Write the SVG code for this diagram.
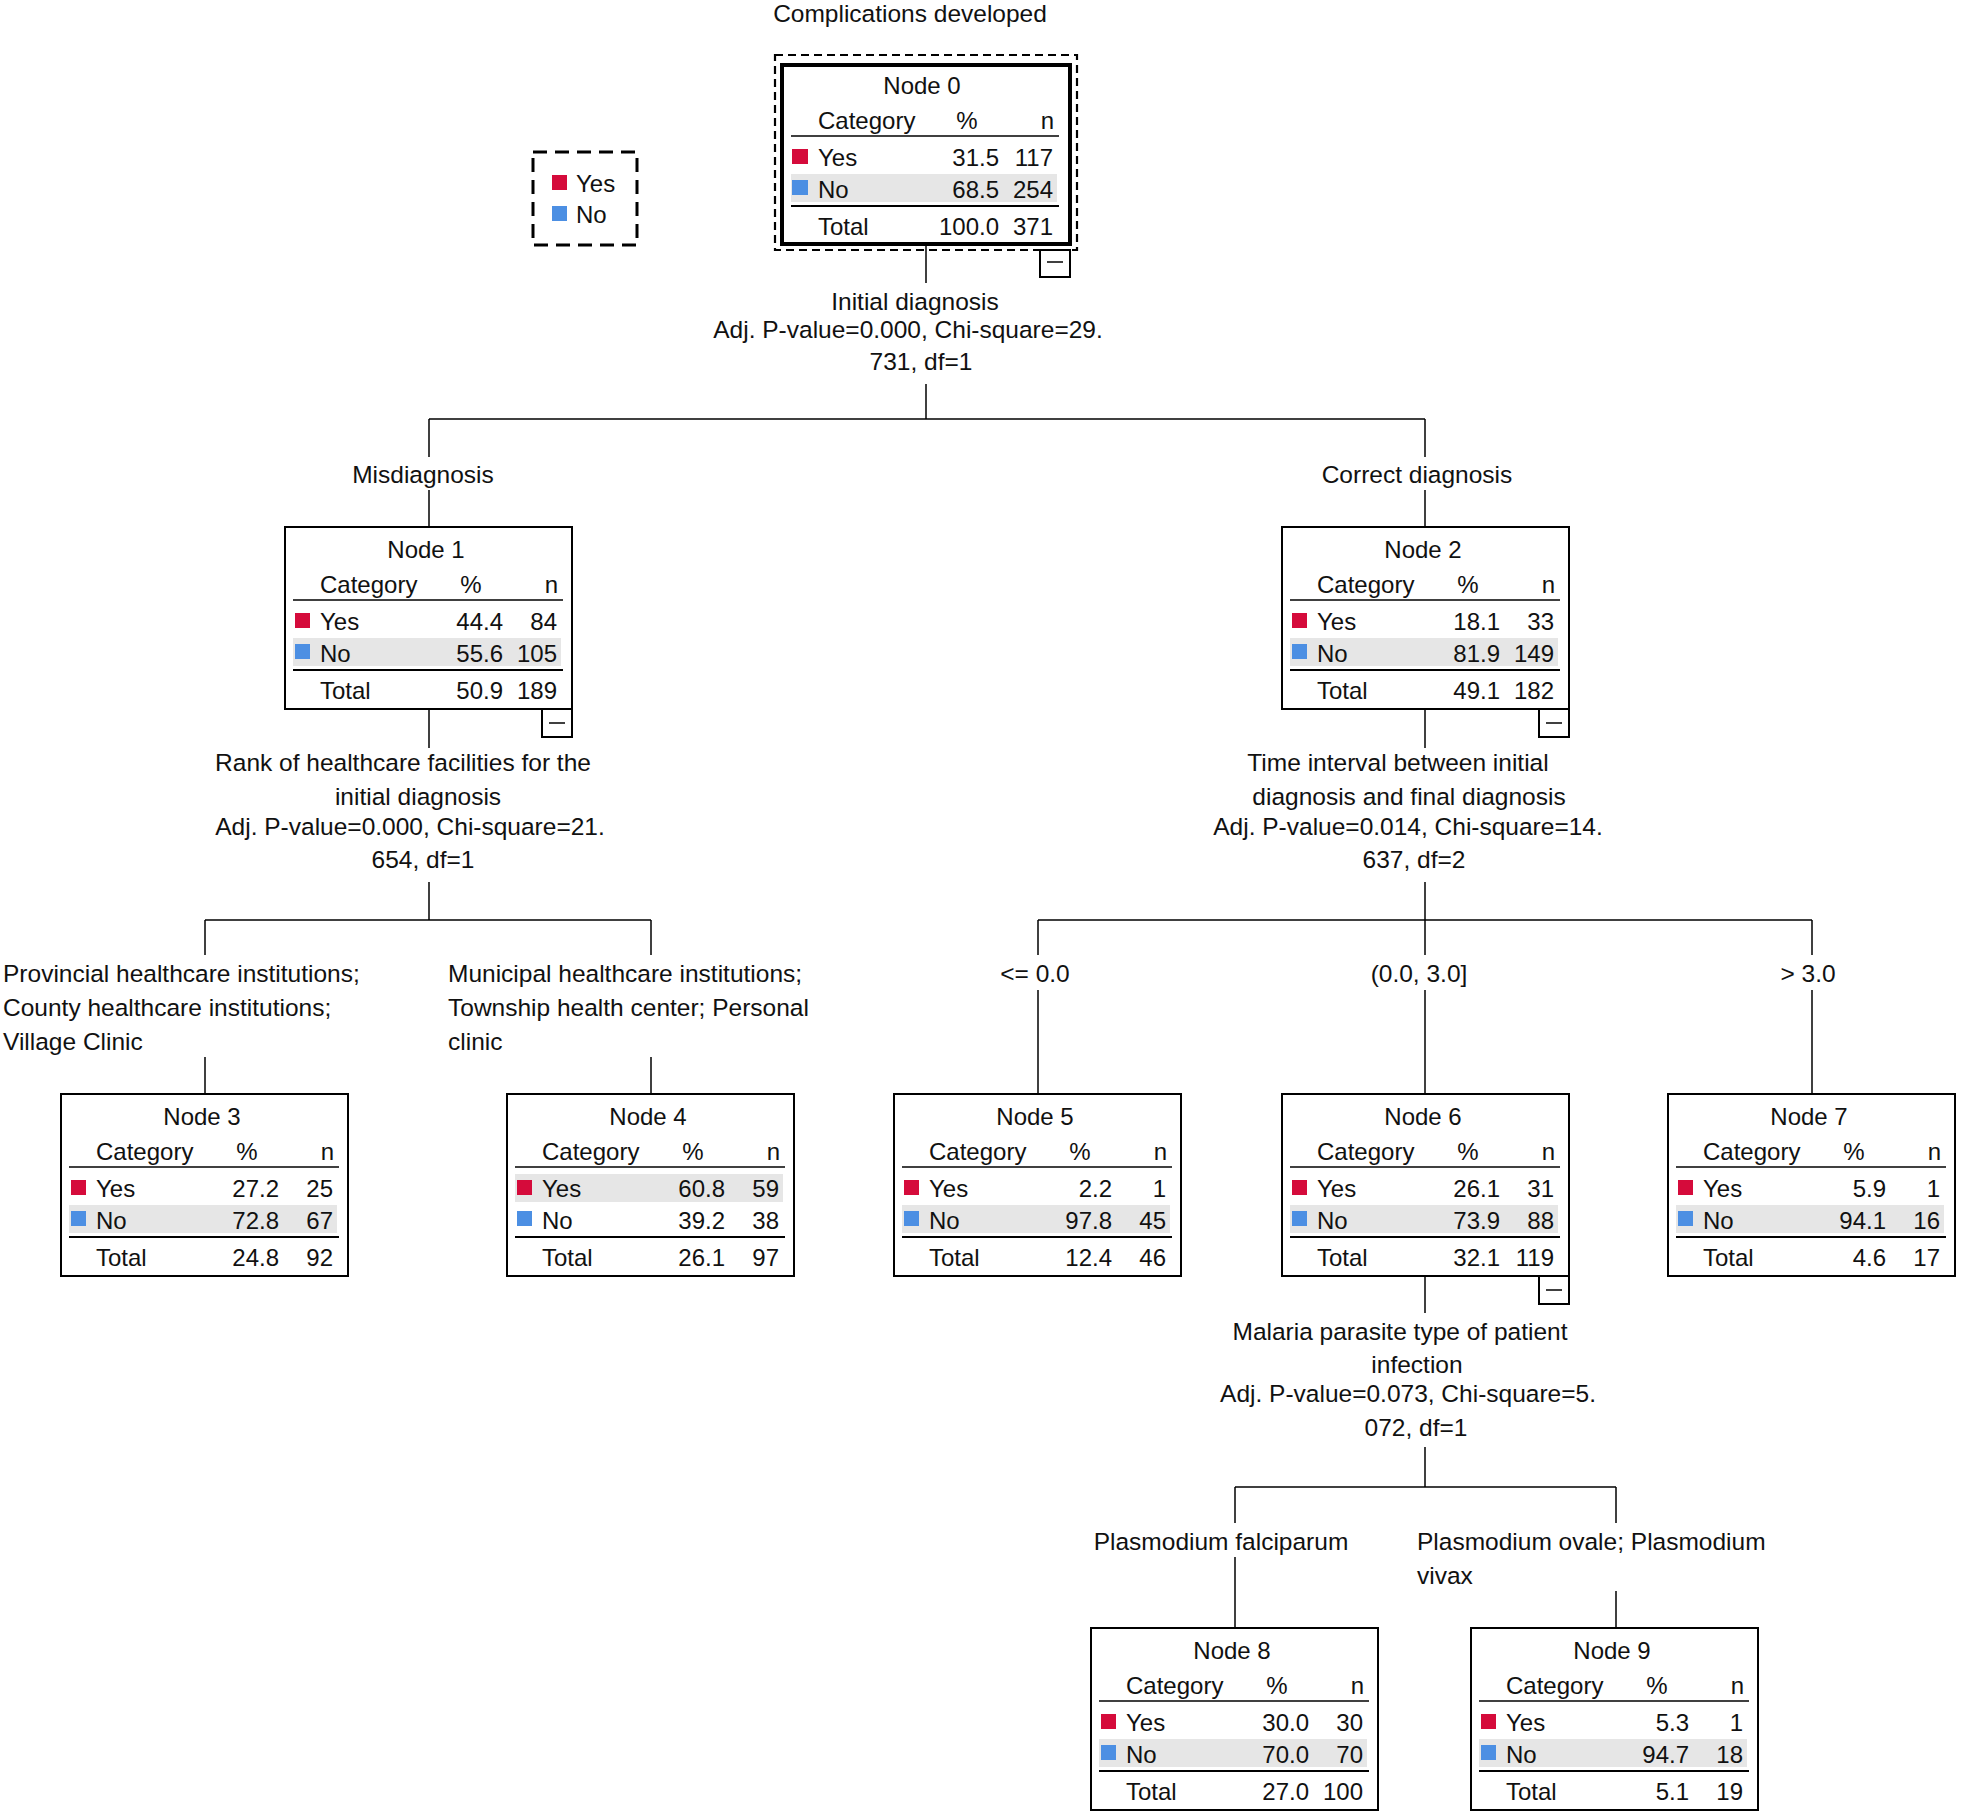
<svg xmlns="http://www.w3.org/2000/svg" width="1961" height="1816" viewBox="0 0 1961 1816">
<style>
.t{font-family:"Liberation Sans",Arial,sans-serif;font-size:24px;fill:#111}
.l{font-family:"Liberation Sans",Arial,sans-serif;font-size:24.5px;fill:#111}
.m{text-anchor:middle}.e{text-anchor:end}
.box{fill:#fff;stroke:#000;stroke-width:2}
.rule{stroke:#000;stroke-width:1.5}
.rule2{stroke:#000;stroke-width:2.2}
.shade{fill:#e6e6e6}
.yes{fill:#d50b3b}.no{fill:#4c8fe3}
.c line{stroke:#000;stroke-width:1.5}
.mn{stroke:#000;stroke-width:1.5}
</style>
<rect width="1961" height="1816" fill="#fff"/>
<text class="l m" x="910" y="22">Complications developed</text>
<g id="legend">
<rect x="533" y="152" width="104" height="93" fill="none" stroke="#000" stroke-width="3" stroke-dasharray="14,8"/>
<rect class="yes" x="552" y="175" width="15" height="15"/>
<text class="t" x="576" y="192">Yes</text>
<rect class="no" x="552" y="206" width="15" height="15"/>
<text class="t" x="576" y="223">No</text>
</g>
<g class="c" id="connectors">
<line x1="926" y1="246" x2="926" y2="283"/>
<line x1="926" y1="384" x2="926" y2="419"/>
<line x1="429" y1="419" x2="1425" y2="419"/>
<line x1="429" y1="419" x2="429" y2="457"/>
<line x1="1425" y1="419" x2="1425" y2="457"/>
<line x1="429" y1="490" x2="429" y2="527"/>
<line x1="1425" y1="490" x2="1425" y2="527"/>
<line x1="429" y1="709" x2="429" y2="748"/>
<line x1="429" y1="882" x2="429" y2="920"/>
<line x1="205" y1="920" x2="651" y2="920"/>
<line x1="205" y1="920" x2="205" y2="955"/>
<line x1="651" y1="920" x2="651" y2="955"/>
<line x1="205" y1="1057" x2="205" y2="1094"/>
<line x1="651" y1="1057" x2="651" y2="1094"/>
<line x1="1425" y1="709" x2="1425" y2="748"/>
<line x1="1425" y1="882" x2="1425" y2="920"/>
<line x1="1038" y1="920" x2="1812" y2="920"/>
<line x1="1038" y1="920" x2="1038" y2="955"/>
<line x1="1425" y1="920" x2="1425" y2="955"/>
<line x1="1812" y1="920" x2="1812" y2="955"/>
<line x1="1038" y1="990" x2="1038" y2="1094"/>
<line x1="1425" y1="990" x2="1425" y2="1094"/>
<line x1="1812" y1="990" x2="1812" y2="1094"/>
<line x1="1425" y1="1276" x2="1425" y2="1313"/>
<line x1="1425" y1="1447" x2="1425" y2="1487"/>
<line x1="1235" y1="1487" x2="1616" y2="1487"/>
<line x1="1235" y1="1487" x2="1235" y2="1523"/>
<line x1="1616" y1="1487" x2="1616" y2="1523"/>
<line x1="1235" y1="1557" x2="1235" y2="1628"/>
<line x1="1616" y1="1591" x2="1616" y2="1628"/>
</g>
<g id="labels">
<text class="l m" x="915" y="310">Initial diagnosis</text>
<text class="l m" x="908" y="338">Adj. P-value=0.000, Chi-square=29.</text>
<text class="l m" x="921" y="370">731, df=1</text>
<text class="l m" x="423" y="483">Misdiagnosis</text>
<text class="l m" x="1417" y="483">Correct diagnosis</text>
<text class="l m" x="403" y="771">Rank of healthcare facilities for the</text>
<text class="l m" x="418" y="805">initial diagnosis</text>
<text class="l m" x="410" y="835">Adj. P-value=0.000, Chi-square=21.</text>
<text class="l m" x="423" y="868">654, df=1</text>
<text class="l m" x="1398" y="771">Time interval between initial</text>
<text class="l m" x="1409" y="805">diagnosis and final diagnosis</text>
<text class="l m" x="1408" y="835">Adj. P-value=0.014, Chi-square=14.</text>
<text class="l m" x="1414" y="868">637, df=2</text>
<text class="l" x="3" y="982">Provincial healthcare institutions;</text>
<text class="l" x="3" y="1016">County healthcare institutions;</text>
<text class="l" x="3" y="1050">Village Clinic</text>
<text class="l" x="448" y="982">Municipal healthcare institutions;</text>
<text class="l" x="448" y="1016">Township health center; Personal</text>
<text class="l" x="448" y="1050">clinic</text>
<text class="l m" x="1035" y="982">&lt;= 0.0</text>
<text class="l m" x="1419" y="982">(0.0, 3.0]</text>
<text class="l m" x="1808" y="982">&gt; 3.0</text>
<text class="l m" x="1400" y="1340">Malaria parasite type of patient</text>
<text class="l m" x="1417" y="1373">infection</text>
<text class="l m" x="1408" y="1402">Adj. P-value=0.073, Chi-square=5.</text>
<text class="l m" x="1416" y="1436">072, df=1</text>
<text class="l m" x="1221" y="1550">Plasmodium falciparum</text>
<text class="l" x="1417" y="1550">Plasmodium ovale; Plasmodium</text>
<text class="l" x="1417" y="1584">vivax</text>
</g>

<g id="node0">
<rect x="775" y="55" width="302" height="195" fill="none" stroke="#000" stroke-width="2.2" stroke-dasharray="8,5"/>
<g transform="translate(781,63)">
<rect x="1" y="2" width="288" height="179" fill="#fff" stroke="#000" stroke-width="4"/>
<text class="t m" x="141" y="31">Node 0</text>
<text class="t" x="37" y="66">Category</text><text class="t m" x="186" y="66">%</text><text class="t e" x="273" y="66">n</text>
<line class="rule" x1="10" y1="73" x2="278" y2="73"/>
<rect class="shade" x="10" y="111" width="266" height="28"/>
<rect class="yes" x="11" y="86" width="16" height="15"/>
<text class="t" x="37" y="103">Yes</text><text class="t e" x="218" y="103">31.5</text><text class="t e" x="272" y="103">117</text>
<rect class="no" x="11" y="117" width="16" height="15"/>
<text class="t" x="37" y="135">No</text><text class="t e" x="218" y="135">68.5</text><text class="t e" x="272" y="135">254</text>
<line class="rule2" x1="10" y1="143" x2="278" y2="143"/>
<text class="t" x="37" y="172">Total</text><text class="t e" x="218" y="172">100.0</text><text class="t e" x="272" y="172">371</text>
</g>
<rect class="box" x="1040" y="250" width="30" height="27"/><line class="mn" x1="1047" y1="262" x2="1063" y2="262"/>
</g>

<g id="node1" transform="translate(285,527)">
<rect class="box" width="287" height="182"/>
<text class="t m" x="141" y="31">Node 1</text>
<text class="t" x="35" y="66">Category</text><text class="t m" x="186" y="66">%</text><text class="t e" x="273" y="66">n</text>
<line class="rule" x1="8" y1="73" x2="278" y2="73"/>
<rect class="shade" x="8" y="111" width="268" height="28"/>
<rect class="yes" x="10" y="86" width="15" height="15"/>
<text class="t" x="35" y="103">Yes</text><text class="t e" x="218" y="103">44.4</text><text class="t e" x="272" y="103">84</text>
<rect class="no" x="10" y="117" width="15" height="15"/>
<text class="t" x="35" y="135">No</text><text class="t e" x="218" y="135">55.6</text><text class="t e" x="272" y="135">105</text>
<line class="rule2" x1="8" y1="143" x2="278" y2="143"/>
<text class="t" x="35" y="172">Total</text><text class="t e" x="218" y="172">50.9</text><text class="t e" x="272" y="172">189</text>
<rect class="box" x="257" y="182" width="30" height="28"/><line class="mn" x1="264" y1="196" x2="280" y2="196"/>
</g>

<g id="node2" transform="translate(1282,527)">
<rect class="box" width="287" height="182"/>
<text class="t m" x="141" y="31">Node 2</text>
<text class="t" x="35" y="66">Category</text><text class="t m" x="186" y="66">%</text><text class="t e" x="273" y="66">n</text>
<line class="rule" x1="8" y1="73" x2="278" y2="73"/>
<rect class="shade" x="8" y="111" width="268" height="28"/>
<rect class="yes" x="10" y="86" width="15" height="15"/>
<text class="t" x="35" y="103">Yes</text><text class="t e" x="218" y="103">18.1</text><text class="t e" x="272" y="103">33</text>
<rect class="no" x="10" y="117" width="15" height="15"/>
<text class="t" x="35" y="135">No</text><text class="t e" x="218" y="135">81.9</text><text class="t e" x="272" y="135">149</text>
<line class="rule2" x1="8" y1="143" x2="278" y2="143"/>
<text class="t" x="35" y="172">Total</text><text class="t e" x="218" y="172">49.1</text><text class="t e" x="272" y="172">182</text>
<rect class="box" x="257" y="182" width="30" height="28"/><line class="mn" x1="264" y1="196" x2="280" y2="196"/>
</g>

<g id="node3" transform="translate(61,1094)">
<rect class="box" width="287" height="182"/>
<text class="t m" x="141" y="31">Node 3</text>
<text class="t" x="35" y="66">Category</text><text class="t m" x="186" y="66">%</text><text class="t e" x="273" y="66">n</text>
<line class="rule" x1="8" y1="73" x2="278" y2="73"/>
<rect class="shade" x="8" y="111" width="268" height="28"/>
<rect class="yes" x="10" y="86" width="15" height="15"/>
<text class="t" x="35" y="103">Yes</text><text class="t e" x="218" y="103">27.2</text><text class="t e" x="272" y="103">25</text>
<rect class="no" x="10" y="117" width="15" height="15"/>
<text class="t" x="35" y="135">No</text><text class="t e" x="218" y="135">72.8</text><text class="t e" x="272" y="135">67</text>
<line class="rule2" x1="8" y1="143" x2="278" y2="143"/>
<text class="t" x="35" y="172">Total</text><text class="t e" x="218" y="172">24.8</text><text class="t e" x="272" y="172">92</text>
</g>

<g id="node4" transform="translate(507,1094)">
<rect class="box" width="287" height="182"/>
<text class="t m" x="141" y="31">Node 4</text>
<text class="t" x="35" y="66">Category</text><text class="t m" x="186" y="66">%</text><text class="t e" x="273" y="66">n</text>
<line class="rule" x1="8" y1="73" x2="278" y2="73"/>
<rect class="shade" x="8" y="80" width="268" height="28"/>
<rect class="yes" x="10" y="86" width="15" height="15"/>
<text class="t" x="35" y="103">Yes</text><text class="t e" x="218" y="103">60.8</text><text class="t e" x="272" y="103">59</text>
<rect class="no" x="10" y="117" width="15" height="15"/>
<text class="t" x="35" y="135">No</text><text class="t e" x="218" y="135">39.2</text><text class="t e" x="272" y="135">38</text>
<line class="rule2" x1="8" y1="143" x2="278" y2="143"/>
<text class="t" x="35" y="172">Total</text><text class="t e" x="218" y="172">26.1</text><text class="t e" x="272" y="172">97</text>
</g>

<g id="node5" transform="translate(894,1094)">
<rect class="box" width="287" height="182"/>
<text class="t m" x="141" y="31">Node 5</text>
<text class="t" x="35" y="66">Category</text><text class="t m" x="186" y="66">%</text><text class="t e" x="273" y="66">n</text>
<line class="rule" x1="8" y1="73" x2="278" y2="73"/>
<rect class="shade" x="8" y="111" width="268" height="28"/>
<rect class="yes" x="10" y="86" width="15" height="15"/>
<text class="t" x="35" y="103">Yes</text><text class="t e" x="218" y="103">2.2</text><text class="t e" x="272" y="103">1</text>
<rect class="no" x="10" y="117" width="15" height="15"/>
<text class="t" x="35" y="135">No</text><text class="t e" x="218" y="135">97.8</text><text class="t e" x="272" y="135">45</text>
<line class="rule2" x1="8" y1="143" x2="278" y2="143"/>
<text class="t" x="35" y="172">Total</text><text class="t e" x="218" y="172">12.4</text><text class="t e" x="272" y="172">46</text>
</g>

<g id="node6" transform="translate(1282,1094)">
<rect class="box" width="287" height="182"/>
<text class="t m" x="141" y="31">Node 6</text>
<text class="t" x="35" y="66">Category</text><text class="t m" x="186" y="66">%</text><text class="t e" x="273" y="66">n</text>
<line class="rule" x1="8" y1="73" x2="278" y2="73"/>
<rect class="shade" x="8" y="111" width="268" height="28"/>
<rect class="yes" x="10" y="86" width="15" height="15"/>
<text class="t" x="35" y="103">Yes</text><text class="t e" x="218" y="103">26.1</text><text class="t e" x="272" y="103">31</text>
<rect class="no" x="10" y="117" width="15" height="15"/>
<text class="t" x="35" y="135">No</text><text class="t e" x="218" y="135">73.9</text><text class="t e" x="272" y="135">88</text>
<line class="rule2" x1="8" y1="143" x2="278" y2="143"/>
<text class="t" x="35" y="172">Total</text><text class="t e" x="218" y="172">32.1</text><text class="t e" x="272" y="172">119</text>
<rect class="box" x="257" y="182" width="30" height="28"/><line class="mn" x1="264" y1="196" x2="280" y2="196"/>
</g>

<g id="node7" transform="translate(1668,1094)">
<rect class="box" width="287" height="182"/>
<text class="t m" x="141" y="31">Node 7</text>
<text class="t" x="35" y="66">Category</text><text class="t m" x="186" y="66">%</text><text class="t e" x="273" y="66">n</text>
<line class="rule" x1="8" y1="73" x2="278" y2="73"/>
<rect class="shade" x="8" y="111" width="268" height="28"/>
<rect class="yes" x="10" y="86" width="15" height="15"/>
<text class="t" x="35" y="103">Yes</text><text class="t e" x="218" y="103">5.9</text><text class="t e" x="272" y="103">1</text>
<rect class="no" x="10" y="117" width="15" height="15"/>
<text class="t" x="35" y="135">No</text><text class="t e" x="218" y="135">94.1</text><text class="t e" x="272" y="135">16</text>
<line class="rule2" x1="8" y1="143" x2="278" y2="143"/>
<text class="t" x="35" y="172">Total</text><text class="t e" x="218" y="172">4.6</text><text class="t e" x="272" y="172">17</text>
</g>

<g id="node8" transform="translate(1091,1628)">
<rect class="box" width="287" height="182"/>
<text class="t m" x="141" y="31">Node 8</text>
<text class="t" x="35" y="66">Category</text><text class="t m" x="186" y="66">%</text><text class="t e" x="273" y="66">n</text>
<line class="rule" x1="8" y1="73" x2="278" y2="73"/>
<rect class="shade" x="8" y="111" width="268" height="28"/>
<rect class="yes" x="10" y="86" width="15" height="15"/>
<text class="t" x="35" y="103">Yes</text><text class="t e" x="218" y="103">30.0</text><text class="t e" x="272" y="103">30</text>
<rect class="no" x="10" y="117" width="15" height="15"/>
<text class="t" x="35" y="135">No</text><text class="t e" x="218" y="135">70.0</text><text class="t e" x="272" y="135">70</text>
<line class="rule2" x1="8" y1="143" x2="278" y2="143"/>
<text class="t" x="35" y="172">Total</text><text class="t e" x="218" y="172">27.0</text><text class="t e" x="272" y="172">100</text>
</g>

<g id="node9" transform="translate(1471,1628)">
<rect class="box" width="287" height="182"/>
<text class="t m" x="141" y="31">Node 9</text>
<text class="t" x="35" y="66">Category</text><text class="t m" x="186" y="66">%</text><text class="t e" x="273" y="66">n</text>
<line class="rule" x1="8" y1="73" x2="278" y2="73"/>
<rect class="shade" x="8" y="111" width="268" height="28"/>
<rect class="yes" x="10" y="86" width="15" height="15"/>
<text class="t" x="35" y="103">Yes</text><text class="t e" x="218" y="103">5.3</text><text class="t e" x="272" y="103">1</text>
<rect class="no" x="10" y="117" width="15" height="15"/>
<text class="t" x="35" y="135">No</text><text class="t e" x="218" y="135">94.7</text><text class="t e" x="272" y="135">18</text>
<line class="rule2" x1="8" y1="143" x2="278" y2="143"/>
<text class="t" x="35" y="172">Total</text><text class="t e" x="218" y="172">5.1</text><text class="t e" x="272" y="172">19</text>
</g>
</svg>
